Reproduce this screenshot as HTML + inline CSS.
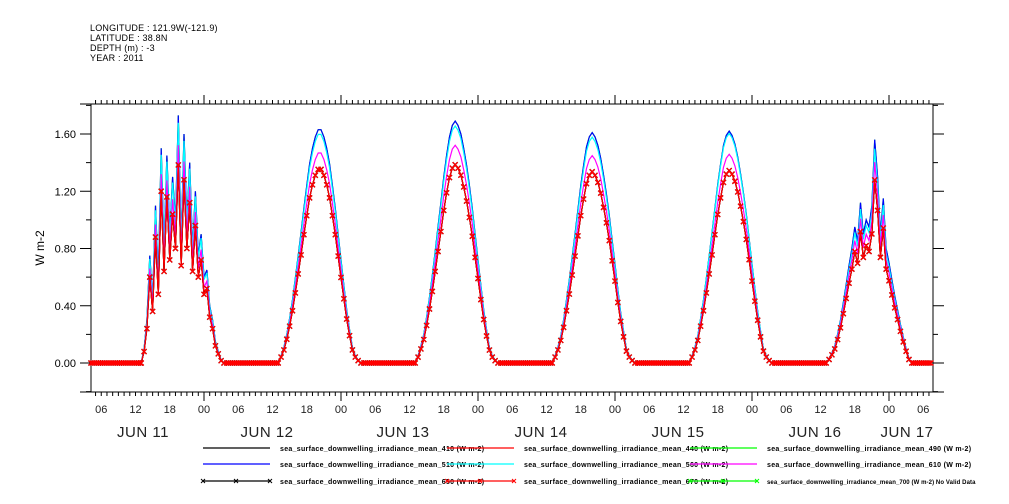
<!DOCTYPE html>
<html><head><meta charset="utf-8"><style>
body{margin:0;background:#fff;}
svg{display:block;font-family:"Liberation Sans",sans-serif;}
</style></head><body>
<svg id="chart" width="1009" height="504" viewBox="0 0 1009 504" xmlns="http://www.w3.org/2000/svg">
<g font-size="9" fill="#000" letter-spacing="0.2">
<text x="90" y="31">LONGITUDE : 121.9W(-121.9)</text>
<text x="90" y="41">LATITUDE : 38.8N</text>
<text x="90" y="51">DEPTH (m) : -3</text>
<text x="90" y="61">YEAR : 2011</text>
</g>
<text transform="translate(44,248) rotate(-90)" text-anchor="middle" font-size="12">W m-2</text>
<g id="axes"></g>
<g id="series"></g>
<g id="legend"></g>
</svg>
<script>
// ---- data (hours since Jun 11 00:00 UTC) ----
const dayNames = ["JUN 11","JUN 12","JUN 13","JUN 14","JUN 15","JUN 16","JUN 17"];
const yTicks = [0.00,0.40,0.80,1.20,1.60];
const yTickLabels = ["0.00","0.40","0.80","1.20","1.60"];
const hourLabels = ["00","06","12","18"];
const dayStartHour = 13, dayStep = 0.5;
const high11 = [0,0.1,0.3,0.75,0.45,1.1,0.6,1.5,0.8,1.45,0.9,1.3,1.0,1.73,0.85,1.6,1.0,1.4,0.8,1.2,0.75,0.9,0.6,0.65,0.4,0.3,0.15,0.08,0.02,0,0];
const high12 = [0,0.05,0.11,0.2,0.31,0.44,0.59,0.75,0.91,1.08,1.24,1.39,1.5,1.58,1.63,1.63,1.58,1.5,1.39,1.24,1.08,0.9,0.72,0.54,0.37,0.23,0.11,0.05,0.02,0,0];
const high13 = [0,0.05,0.12,0.2,0.32,0.46,0.61,0.78,0.95,1.12,1.3,1.45,1.58,1.66,1.69,1.66,1.6,1.5,1.38,1.24,1.08,0.9,0.72,0.54,0.37,0.23,0.11,0.05,0.02,0,0];
const high14 = [0,0.05,0.11,0.19,0.3,0.44,0.58,0.74,0.9,1.07,1.24,1.38,1.51,1.58,1.61,1.58,1.52,1.43,1.31,1.18,1.03,0.86,0.69,0.51,0.35,0.22,0.1,0.05,0.02,0,0];
const high15 = [0,0.05,0.11,0.19,0.31,0.44,0.59,0.75,0.91,1.08,1.25,1.39,1.52,1.59,1.62,1.59,1.53,1.44,1.32,1.19,1.04,0.87,0.69,0.52,0.36,0.22,0.1,0.05,0.02,0,0];
const high16 = [0,0.03,0.07,0.12,0.2,0.3,0.42,0.55,0.68,0.8,0.95,0.85,1.12,0.9,1.0,0.95,1.1,1.56,1.3,0.9,1.15,0.8,0.7,0.58,0.47,0.37,0.27,0.18,0.1,0.03,0];
const ratio560 = [0.97,0.98,0.98,0.98,0.99,0.96];
const ratio610 = [0.88,0.9,0.9,0.9,0.9,0.9];
const ratioLow = [0.8,0.83,0.82,0.83,0.83,0.82];
const tStart = 4.2, tEnd = 151.5;

// ---- scales ----
const X0=91, X1=933, Y0=392, Y1=104;
const pxPerDay = 137, midnight11 = 67;
function xs(h){return midnight11 + h*pxPerDay/24;}
function ys(v){return 363 - v*(229/1.6);}
const NS="http://www.w3.org/2000/svg";
function mk(tag,attrs,parent){const e=document.createElementNS(NS,tag);for(const k in attrs)e.setAttribute(k,attrs[k]);parent.appendChild(e);return e;}

// ---- axes ----
const ax=document.getElementById('axes');
mk('rect',{x:X0,y:Y1,width:X1-X0,height:Y0-Y1,fill:'none',stroke:'#000','stroke-width':1},ax);
mk('line',{x1:80,y1:Y1,x2:944,y2:Y1,stroke:'#000'},ax);
mk('line',{x1:80,y1:Y0,x2:944,y2:Y0,stroke:'#000'},ax);
for(let h=Math.ceil(tStart-0.2);h<=152;h++){
  const x=xs(h); if(x<X0||x>X1)continue;
  const major=(h%24===0);
  mk('line',{x1:x,y1:Y1,x2:x,y2:Y1-(major?9:4),stroke:'#000'},ax);
  mk('line',{x1:x,y1:Y0,x2:x,y2:Y0+(major?9:4),stroke:'#000'},ax);
  if(h%6===0){
    const t=mk('text',{x:x,y:413,'text-anchor':'middle','font-size':11,fill:'#222'},ax);
    
    
    t.textContent=hourLabels[(h%24)/6];
  }
}
const dayLabelX=[143,267,403,541,678,815,907];
dayNames.forEach((d,i)=>{
  const t=mk('text',{x:dayLabelX[i],y:437,'text-anchor':'middle','font-size':15,fill:'#222','letter-spacing':'0.5'},ax);
  
  
  t.textContent=d;
});
for(let v=-0.2;v<=1.81;v+=0.2){
  const y=ys(v); if(y<Y1||y>Y0)continue;
  const major=Math.abs(Math.round(v*10)%4)===0;
  mk('line',{x1:X0,y1:y,x2:X0-(major?11:5),y2:y,stroke:'#000'},ax);
  mk('line',{x1:X1,y1:y,x2:X1+(major?11:5),y2:y,stroke:'#000'},ax);
}
yTicks.forEach((v,i)=>{
  const t=mk('text',{x:76,y:ys(v)+4,'text-anchor':'end','font-size':11},ax);
  
  
  t.textContent=yTickLabels[i];
});

// ---- series ----
const highs=[high11,high12,high13,high14,high15,high16];
function buildSeries(ratios){
  const pts=[];
  for(let t=tStart;t<13;t+=1/3)pts.push([t,0]);
  highs.forEach((arr,d)=>{
    arr.forEach((v,i)=>pts.push([d*24+dayStartHour+i*dayStep, v*(ratios?ratios[d]:1)]));
    const nextStart=(d+1)*24+dayStartHour;
    const lastT=d*24+dayStartHour+(arr.length-1)*dayStep;
    for(let t=lastT+1/3;t<nextStart && t<=tEnd;t+=1/3)pts.push([t,0]);
  });
  return pts;
}
const ones=[1,1,1,1,1,1];
const seriesDefs=[
  {name:'series-410',color:'#000',r:ratioLow,marker:false},
  {name:'series-440',color:'#f00',r:ratioLow,marker:false},
  {name:'series-490',color:'#0f0',r:ones,marker:false},
  {name:'series-510',color:'#00f',r:ones,marker:false},
  {name:'series-560',color:'#0ff',r:ratio560,marker:false},
  {name:'series-610',color:'#f0f',r:ratio610,marker:false},
  {name:'series-650',color:'#000',r:ratioLow,marker:true},
  {name:'series-670',color:'#f00',r:ratioLow,marker:true}
];
const sg=document.getElementById('series');
seriesDefs.forEach(s=>{
  const pts=buildSeries(s.r);
  const g=mk('g',{},sg);
  
  
  const d=pts.map((p,i)=>(i?'L':'M')+xs(p[0]).toFixed(1)+','+ys(p[1]).toFixed(1)).join('');
  mk('path',{d:d,fill:'none',stroke:s.color,'stroke-width':1.2},g);
  if(s.marker){
    let md='';
    pts.forEach(p=>{const x=xs(p[0]),y=ys(p[1]);md+=`M${x-2.5},${y-2.5}L${x+2.5},${y+2.5}M${x-2.5},${y+2.5}L${x+2.5},${y-2.5}`;});
    mk('path',{d:md,fill:'none',stroke:s.color,'stroke-width':1.3},g);
  }
});

// ---- legend ----
const lg=document.getElementById('legend');
const legendItems=[
  ['sea_surface_downwelling_irradiance_mean_410 (W m-2)','#000',false,203,448],
  ['sea_surface_downwelling_irradiance_mean_440 (W m-2)','#f00',false,447,448],
  ['sea_surface_downwelling_irradiance_mean_490 (W m-2)','#0f0',false,690,448],
  ['sea_surface_downwelling_irradiance_mean_510 (W m-2)','#00f',false,203,464],
  ['sea_surface_downwelling_irradiance_mean_560 (W m-2)','#0ff',false,447,464],
  ['sea_surface_downwelling_irradiance_mean_610 (W m-2)','#f0f',false,690,464],
  ['sea_surface_downwelling_irradiance_mean_650 (W m-2)','#000',true,203,481],
  ['sea_surface_downwelling_irradiance_mean_670 (W m-2)','#f00',true,447,481],
  ['sea_surface_downwelling_irradiance_mean_700 (W m-2) No Valid Data','#0f0',true,690,481]
];
legendItems.forEach(it=>{
  const g=mk('g',{},lg);
  
  
  const [label,c,m,x,y]=it;
  mk('line',{x1:x,y1:y,x2:x+67,y2:y,stroke:c,'stroke-width':1.2},g);
  if(m){[0,33,67].forEach(o=>mk('path',{d:`M${x+o-2},${y-2}L${x+o+2},${y+2}M${x+o-2},${y+2}L${x+o+2},${y-2}`,stroke:c,'stroke-width':1},g));}
  const nv=label.includes('No Valid');
  const t=mk('text',{x:x+77,y:y+3,'font-size':nv?6:7,'font-weight':'bold','letter-spacing':nv?'0.1':'0.3'},g);
  t.textContent=label;
});
</script>
</body></html>
